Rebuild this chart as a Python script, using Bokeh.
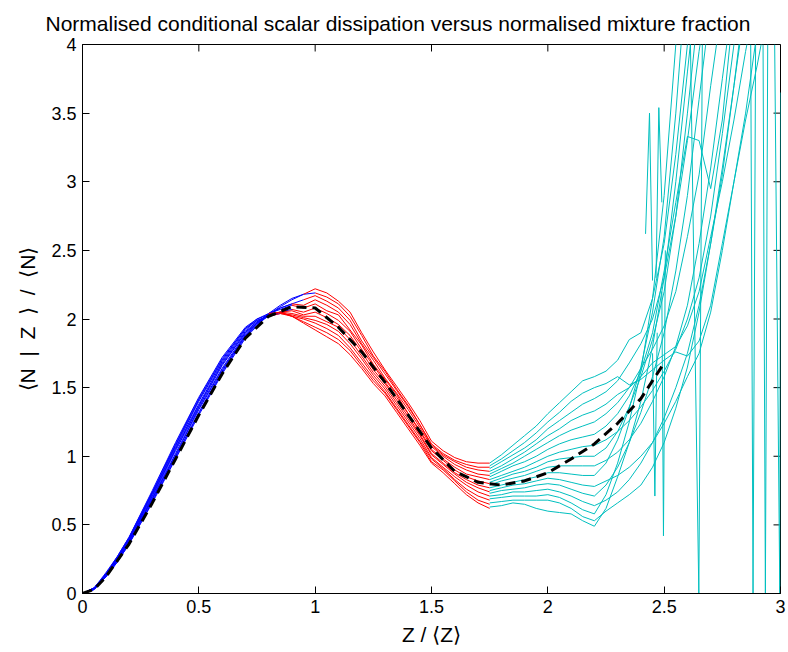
from bokeh.plotting import figure
from bokeh.models import FixedTicker, Range1d
from bokeh.embed import file_html
from bokeh.resources import INLINE

TITLE = "Normalised conditional scalar dissipation versus normalised mixture fraction"
X_LABEL = "Z / ⟨Z⟩"
Y_LABEL = "⟨N\u00a0 |\u00a0 Z\u00a0 ⟩\u00a0 /\u00a0 ⟨N⟩"

X_TICKS = [0, 0.5, 1, 1.5, 2, 2.5, 3]
X_TICK_LABELS = ["0", "0.5", "1", "1.5", "2", "2.5", "3"]
Y_TICKS = [0, 0.5, 1, 1.5, 2, 2.5, 3, 3.5, 4]
Y_TICK_LABELS = ["0", "0.5", "1", "1.5", "2", "2.5", "3", "3.5", "4"]

# mean (dashed black)
MEAN_X = [0, 0.05, 0.1, 0.2, 0.3, 0.4, 0.5, 0.6, 0.7, 0.8, 0.9, 1.0, 1.1, 1.2, 1.3,
          1.4, 1.5, 1.6, 1.7, 1.8, 1.9, 2.0, 2.1, 2.2, 2.3, 2.4, 2.5]
MEAN_Y = [0, 0.03, 0.12, 0.36, 0.66, 0.98, 1.30, 1.60, 1.86, 2.02, 2.09, 2.08, 1.94, 1.76, 1.54,
          1.30, 1.06, 0.89, 0.81, 0.79, 0.82, 0.88, 0.98, 1.09, 1.24, 1.42, 1.68]

# blue segments (low Z)
BLUE_X = [0, 0.05, 0.1, 0.15, 0.2, 0.3, 0.4, 0.5, 0.6, 0.7, 0.75, 0.8, 0.85, 0.9, 0.95, 1.0]
BLUE_Y = [
    [0, 0.03, 0.12, 0.23, 0.36, 0.66, 0.98, 1.30, 1.60, 1.86, 1.95, 2.03, 2.09, 2.14, 2.18],
    [0, 0.03, 0.12, 0.23, 0.36, 0.67, 0.99, 1.31, 1.61, 1.87, 1.96, 2.04, 2.10, 2.15, 2.18, 2.19],
    [0, 0.03, 0.12, 0.24, 0.37, 0.68, 1.00, 1.32, 1.62, 1.88, 1.96, 2.03, 2.08, 2.11, 2.14],
    [0, 0.03, 0.13, 0.24, 0.37, 0.69, 1.01, 1.34, 1.63, 1.88, 1.97, 2.04, 2.08, 2.11],
    [0, 0.03, 0.13, 0.24, 0.38, 0.69, 1.02, 1.35, 1.64, 1.89, 1.97, 2.04, 2.07, 2.10],
    [0, 0.03, 0.13, 0.25, 0.38, 0.70, 1.04, 1.36, 1.66, 1.90, 1.97, 2.02, 2.05, 2.07],
    [0, 0.04, 0.13, 0.25, 0.39, 0.71, 1.05, 1.37, 1.67, 1.90, 1.98, 2.03, 2.05],
    [0, 0.04, 0.14, 0.26, 0.39, 0.72, 1.06, 1.38, 1.68, 1.91, 1.98, 2.02, 2.05],
    [0, 0.04, 0.14, 0.26, 0.40, 0.73, 1.07, 1.40, 1.69, 1.92, 1.99, 2.02, 2.04],
    [0, 0.04, 0.14, 0.26, 0.40, 0.73, 1.08, 1.41, 1.70, 1.93, 1.99, 2.02],
    [0, 0.04, 0.14, 0.27, 0.41, 0.74, 1.09, 1.42, 1.71, 1.93, 2.00, 2.03],
    [0, 0.04, 0.15, 0.27, 0.41, 0.75, 1.10, 1.43, 1.72, 1.94, 2.00, 2.04],
]

# red segments (middle Z)
RED_X = [0.80, 0.85, 0.90, 0.95, 1.00, 1.05, 1.10, 1.15, 1.20, 1.25, 1.30, 1.35, 1.40,
         1.45, 1.50, 1.55, 1.60, 1.65, 1.70, 1.75]
RED_START = [3, 4, 3, 2, 2, 2, 1, 1, 1, 0, 0, 0]
RED_Y = [
    [2.18, 2.22, 2.19, 2.13, 2.05, 1.90, 1.76, 1.63, 1.51, 1.39, 1.26, 1.11, 1.04, 0.99, 0.96, 0.95, 0.95],
    [2.19, 2.16, 2.11, 2.02, 1.88, 1.73, 1.62, 1.49, 1.37, 1.23, 1.09, 1.02, 0.97, 0.94, 0.92, 0.92],
    [2.14, 2.17, 2.13, 2.08, 1.99, 1.84, 1.72, 1.60, 1.48, 1.36, 1.23, 1.08, 1.01, 0.96, 0.92, 0.90, 0.89],
    [2.11, 2.10, 2.14, 2.10, 2.05, 1.96, 1.82, 1.70, 1.57, 1.46, 1.34, 1.21, 1.07, 1.00, 0.94, 0.90, 0.87, 0.86],
    [2.10, 2.08, 2.11, 2.06, 2.03, 1.92, 1.81, 1.67, 1.56, 1.45, 1.31, 1.19, 1.05, 0.98, 0.92, 0.87, 0.85, 0.83],
    [2.07, 2.05, 2.08, 2.04, 1.99, 1.91, 1.78, 1.66, 1.54, 1.43, 1.31, 1.18, 1.04, 0.97, 0.90, 0.85, 0.82, 0.80],
    [2.05, 2.06, 2.03, 2.05, 2.01, 1.96, 1.88, 1.76, 1.63, 1.53, 1.41, 1.29, 1.16, 1.02, 0.95, 0.88, 0.83, 0.79, 0.77],
    [2.05, 2.04, 2.02, 2.02, 1.98, 1.94, 1.85, 1.73, 1.61, 1.51, 1.39, 1.27, 1.15, 1.01, 0.94, 0.87, 0.81, 0.77, 0.74],
    [2.04, 2.03, 2.01, 1.99, 1.96, 1.91, 1.82, 1.71, 1.59, 1.49, 1.37, 1.25, 1.13, 0.99, 0.92, 0.85, 0.79, 0.74, 0.71],
    [2.02, 2.04, 2.02, 2.00, 1.97, 1.93, 1.88, 1.79, 1.68, 1.57, 1.47, 1.35, 1.23, 1.11, 0.98, 0.91, 0.83, 0.76, 0.71, 0.68],
    [2.03, 2.05, 2.02, 1.98, 1.94, 1.90, 1.85, 1.77, 1.66, 1.55, 1.46, 1.34, 1.22, 1.10, 0.96, 0.90, 0.82, 0.74, 0.68, 0.65],
    [2.04, 2.05, 2.02, 1.97, 1.92, 1.87, 1.82, 1.74, 1.64, 1.53, 1.44, 1.32, 1.20, 1.08, 0.95, 0.88, 0.80, 0.72, 0.66, 0.62],
]

# cyan segments (high Z)
CYAN_X = [1.75, 1.80, 1.85, 1.90, 1.95, 2.00, 2.05, 2.10, 2.15, 2.20, 2.25, 2.30, 2.35,
          2.40, 2.45, 2.50, 2.55, 2.60, 2.65, 2.70, 2.75, 2.80, 2.85, 2.90, 2.95, 3.00]
CYAN_Y = [
    [0.95, 1.01, 1.08, 1.15, 1.22, 1.31, 1.39, 1.47, 1.55, 1.58, 1.62, 1.70, 1.85, 1.90, 2.15, 2.55, 3.20, 4.00, 4.60],
    [0.93, 0.98, 1.04, 1.10, 1.17, 1.25, 1.32, 1.40, 1.46, 1.50, 1.53, 1.58, 1.52, 1.56, 1.63, 1.70, 1.76, 1.73, 1.84, 2.10, 2.55, 3.00, 3.45, 3.85, 4.30],
    [0.91, 0.96, 1.01, 1.06, 1.12, 1.20, 1.26, 1.32, 1.38, 1.42, 1.47, 1.55, 1.68, 1.82, 2.00, 2.30, 2.75, 3.30, 3.95, 4.50],
    [0.89, 0.93, 0.98, 1.03, 1.09, 1.15, 1.20, 1.26, 1.30, 1.33, 1.38, 1.45, 1.50, 1.58, 1.68, 1.74, 1.80, 1.95, 2.20, 2.60, 3.00, 3.45, 3.95, 4.40],
    [0.87, 0.91, 0.95, 1.00, 1.05, 1.10, 1.15, 1.19, 1.22, 1.25, 1.31, 1.39, 1.50, 1.64, 1.78, 1.95, 2.20, 2.60, 3.05, 3.70, 4.30],
    [0.85, 0.89, 0.93, 0.96, 1.00, 1.05, 1.09, 1.12, 1.14, 1.16, 1.22, 1.31, 1.44, 1.62, 1.90, 2.35, 2.85, 3.33, 3.30, 2.95, 3.45, 4.30],
    [0.83, 0.86, 0.89, 0.92, 0.96, 1.00, 1.03, 1.05, 1.07, 1.08, 1.12, 1.18, 1.26, 1.36, 1.48, 1.62, 1.78, 2.00, 2.30, 2.75, 3.35, 4.00, 4.60],
    [0.81, 0.84, 0.87, 0.89, 0.92, 0.96, 0.98, 0.99, 1.00, 1.00, 1.06, 1.18, 1.36, 1.58, 1.85, 2.20, 2.75, 3.50, 4.30],
    [0.79, 0.82, 0.84, 0.86, 0.89, 0.92, 0.93, 0.93, 0.93, 0.93, 0.97, 1.03, 1.12, 1.24, 1.40, 1.58, 1.80, 2.10, 2.55, 3.10, 3.75, 4.40],
    [0.77, 0.79, 0.81, 0.83, 0.85, 0.88, 0.88, 0.87, 0.86, 0.86, 0.95, 1.12, 1.35, 1.65, 2.05, 2.60, 3.50, 4.60],
    [0.75, 0.77, 0.79, 0.80, 0.82, 0.84, 0.83, 0.81, 0.79, 0.78, 0.82, 0.86, 0.92, 1.00, 1.10, 1.24, 1.40, 1.58, 1.75, 2.05, 2.50, 3.00, 3.50, 4.10],
    [0.73, 0.75, 0.76, 0.77, 0.79, 0.80, 0.79, 0.76, 0.73, 0.71, 0.79, 0.92, 1.10, 1.32, 1.58, 1.90, 2.35, 2.90, 3.60, 4.30],
    [0.71, 0.72, 0.74, 0.74, 0.75, 0.76, 0.74, 0.71, 0.67, 0.64, 0.68, 0.74, 0.83, 0.95, 1.10, 1.28, 1.50, 1.75, 2.10, 2.55, 3.05, 3.70, 4.40],
    [0.69, 0.70, 0.71, 0.71, 0.71, 0.72, 0.70, 0.66, 0.61, 0.58, 0.72, 0.95, 1.25, 1.62, 2.15, 2.90, 4.00, 5.00],
    [0.66, 0.67, 0.68, 0.68, 0.68, 0.68, 0.66, 0.62, 0.56, 0.53, 0.60, 0.66, 0.72, 0.79, 0.92, 1.10, 1.35, 1.65, 2.05, 2.55, 3.10, 3.70, 4.30],
    [0.63, 0.64, 0.66, 0.65, 0.62, 0.60, 0.59, 0.58, 0.53, 0.49, 0.62, 0.85, 1.10, 1.40, 1.80, 2.30, 3.00, 3.80, 4.60],
]

# isolated cyan spikes / drops
CYAN_SPIKE_X = [
    [2.42, 2.437, 2.45],
    [2.465, 2.477, 2.49],
    [2.45, 2.46, 2.47],
    [2.49, 2.497, 2.505],
    [2.613, 2.649, 2.664],
    [2.872, 2.882, 2.893],
    [2.925, 2.935, 2.945],
    [2.975, 2.997, 3.0],
]
CYAN_SPIKE_Y = [
    [2.62, 3.50, 2.28],
    [2.30, 3.54, 2.85],
    [1.75, 0.71, 1.90],
    [2.20, 0.42, 2.50],
    [4.0, 0.0, 4.0],
    [4.0, 0.0, 4.0],
    [4.0, 0.0, 4.0],
    [4.0, 0.0, 3.65],
]

FONT = "Liberation Sans"
X0, X1, Y0, Y1 = 0, 3, 0, 4
FRAME_W, FRAME_H = 698, 550
TICK_PX = 7

p = figure(width=788, height=652, x_range=Range1d(X0, X1), y_range=Range1d(Y0, Y1),
           output_backend="svg", toolbar_location=None,
           min_border_left=82, min_border_right=8, min_border_top=43, min_border_bottom=59,
           background_fill_color="white", border_fill_color="white")

p.xgrid.visible = False
p.ygrid.visible = False
p.outline_line_color = "black"
p.outline_line_width = 1
p.outline_line_alpha = 1

p.title.text = TITLE
p.title.align = "left"
p.title.offset = -37
p.title.text_font = FONT
p.title.text_font_size = "21px"
p.title.text_line_height = 1.0
p.title.text_font_style = "normal"
p.title.text_color = "black"
p.title.standoff = 19


def style_axis(ax, ticks, labels):
    ax.ticker = FixedTicker(ticks=ticks)
    ax.major_label_overrides = {t: l for t, l in zip(ticks, labels)}
    ax.major_tick_in = TICK_PX
    ax.major_tick_out = 0
    ax.major_tick_line_color = "black"
    ax.minor_tick_line_color = None
    ax.axis_line_color = "black"
    ax.major_label_text_font = FONT
    ax.major_label_text_color = "black"
    ax.major_label_text_font_size = "18px"
    ax.major_label_standoff = 6
    ax.axis_label_text_font = FONT
    ax.axis_label_text_font_size = "21px"
    ax.axis_label_text_font_style = "normal"
    ax.axis_label_text_color = "black"
    ax.axis_label_standoff = 7


style_axis(p.xaxis[0], X_TICKS, X_TICK_LABELS)
style_axis(p.yaxis[0], Y_TICKS, Y_TICK_LABELS)
p.xaxis[0].axis_label = X_LABEL
p.yaxis[0].axis_label = Y_LABEL
p.yaxis[0].axis_label_standoff = 9

# inward ticks on the top and right edges of the box
dy = TICK_PX * (Y1 - Y0) / FRAME_H
dx = TICK_PX * (X1 - X0) / FRAME_W
p.segment(x0=X_TICKS, y0=[Y1] * len(X_TICKS), x1=X_TICKS, y1=[Y1 - dy] * len(X_TICKS),
          line_color="black", line_width=1)
p.segment(x0=[X1] * len(Y_TICKS), y0=Y_TICKS, x1=[X1 - dx] * len(Y_TICKS), y1=Y_TICKS,
          line_color="black", line_width=1)

# blue
for ys in BLUE_Y:
    p.line(BLUE_X[:len(ys)], ys, line_color="#0000ff", line_width=1)
# red
for s, ys in zip(RED_START, RED_Y):
    p.line(RED_X[s:s + len(ys)], ys, line_color="#ff0000", line_width=1)
# cyan
for ys in CYAN_Y:
    p.line(CYAN_X[:len(ys)], ys, line_color="#00bfbf", line_width=1)
for xs, ys in zip(CYAN_SPIKE_X, CYAN_SPIKE_Y):
    p.line(xs, ys, line_color="#00bfbf", line_width=1)
# mean
p.line(MEAN_X, MEAN_Y, line_color="black", line_width=3, line_dash="10 6")

open("out.html", "w").write(file_html(p, INLINE))
